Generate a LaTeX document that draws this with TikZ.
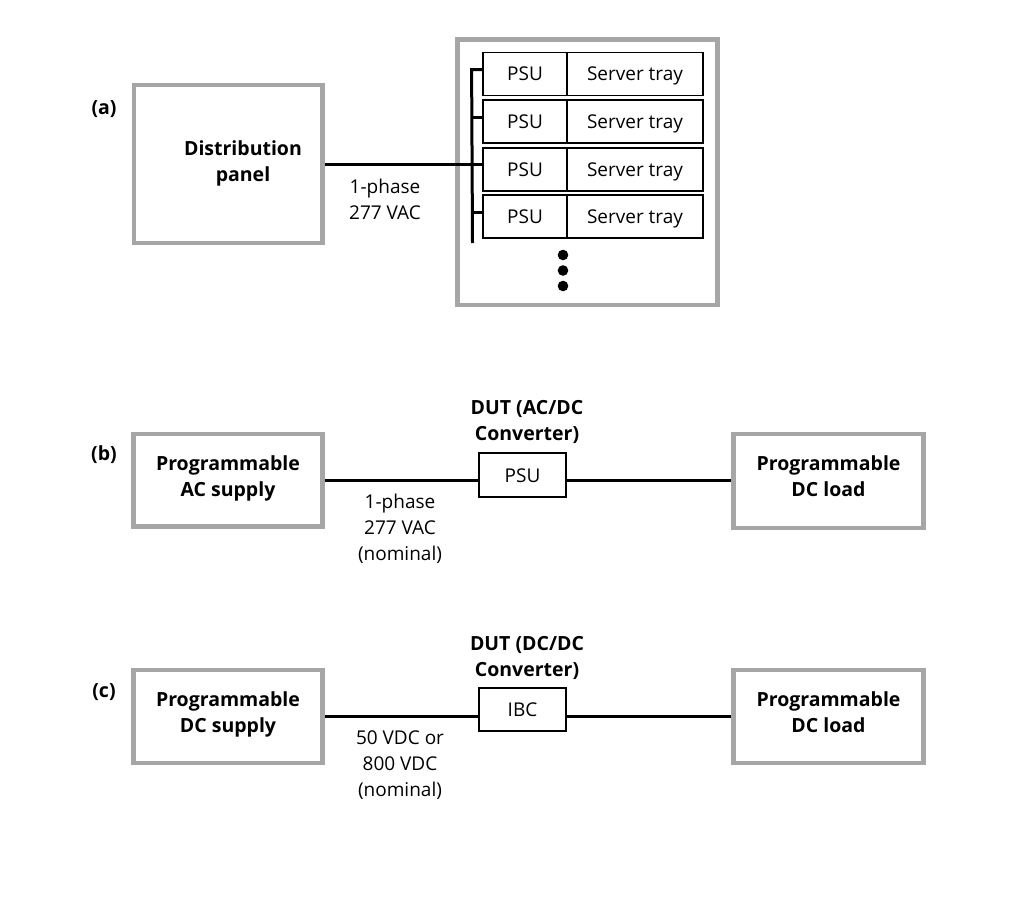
\documentclass[tikz,border=0pt]{standalone}
\usepackage{fontspec}
\setmainfont{Open Sans}
\begin{document}
\begin{tikzpicture}[x=1pt,y=-1pt,
  gbox/.style={draw={rgb,255:red,166;green,166;blue,166}, line width=4.5pt, inner sep=0pt, align=center, text depth=9pt, font=\bfseries\fontsize{19.5}{26}\selectfont},
  bbox/.style={draw=black, line width=1.8pt, inner sep=0pt, text height=13.6pt, text depth=0pt, font=\fontsize{19}{26}\selectfont},
  wire/.style={line width=3pt},
  txt/.style={align=center, inner sep=0pt, font=\fontsize{19}{26}\selectfont},
  btxt/.style={align=center, inner sep=0pt, font=\bfseries\fontsize{19.5}{26}\selectfont},
  dot/.style={circle, fill=black, minimum size=10.6pt, inner sep=0pt}]
\useasboundingbox (0,0) rectangle (1014,910);
\fill[white] (0,0) rectangle (1014,910);
% (a)
\node[btxt] (la) at (104,109) {(a)};
\node[gbox, minimum width=188.5pt, minimum height=158pt] (dp) at (228,164) {};
\node[btxt] (dptext) at (243,163) {Distribution\\panel};
\node[gbox, minimum width=260pt, minimum height=265.5pt] (rack) at (587.5,172.25) {};
\foreach \i/\y in {1/74,2/121.6,3/169.2,4/216.8}{
  \node[bbox, minimum width=84pt, minimum height=43pt] (p\i) at (525,\y) {PSU};
  \node[bbox, minimum width=136pt, minimum height=43pt] (t\i) at (635,\y) {Server tray};
}
\coordinate (busbot) at (472.5,243);
\draw[wire] ([yshift=4.5pt]p1.west) -- ++(-10.5,0) -- (busbot);
\draw[wire] ([yshift=4.5pt]p2.west) -- ++(-10.5,0);
\draw[wire] ([yshift=4.5pt]p4.west) -- ++(-10.5,0);
\draw[wire] (dp.east) -- (p3.west |- dp.east);
\node[txt] (va) at (385,199) {1-phase\\277 VAC};
\node[dot] (d1) at (563,255) {};
\node[dot] (d2) at (563,270.5) {};
\node[dot] (d3) at (563,286) {};
% (b)
\node[btxt] (lb) at (104,455) {(b)};
\node[gbox, minimum width=189pt, minimum height=92.5pt] (acs) at (228,480.25) {Programmable\\AC supply};
\node[bbox, minimum width=86.5pt, minimum height=43.7pt] (psu) at (522.5,475.2) {PSU};
\node[gbox, minimum width=190pt, minimum height=94pt] (loadb) at (828.5,481) {Programmable\\DC load};
\node[btxt] (dutb) at (527,421.5) {DUT (AC/DC\\Converter)};
\node[txt] (vb) at (400,529) {1-phase\\277 VAC\\(nominal)};
\draw[wire] (acs.east) -- (psu.west |- acs.east);
\draw[wire] (psu.east |- acs.east) -- (loadb.west |- acs.east);
% (c)
\node[btxt] (lc) at (104,692) {(c)};
\node[gbox, minimum width=189pt, minimum height=93pt] (dcs) at (228,716.5) {Programmable\\DC supply};
\node[bbox, minimum width=86.5pt, minimum height=42.5pt] (ibc) at (522.5,709.5) {IBC};
\node[gbox, minimum width=190pt, minimum height=93pt] (loadc) at (828.5,716.5) {Programmable\\DC load};
\node[btxt] (dutc) at (527,657.5) {DUT (DC/DC\\Converter)};
\node[txt] (vc) at (400,765) {50 VDC or\\800 VDC\\(nominal)};
\draw[wire] (dcs.east) -- (ibc.west |- dcs.east);
\draw[wire] (ibc.east |- dcs.east) -- (loadc.west);
\end{tikzpicture}
\end{document}
